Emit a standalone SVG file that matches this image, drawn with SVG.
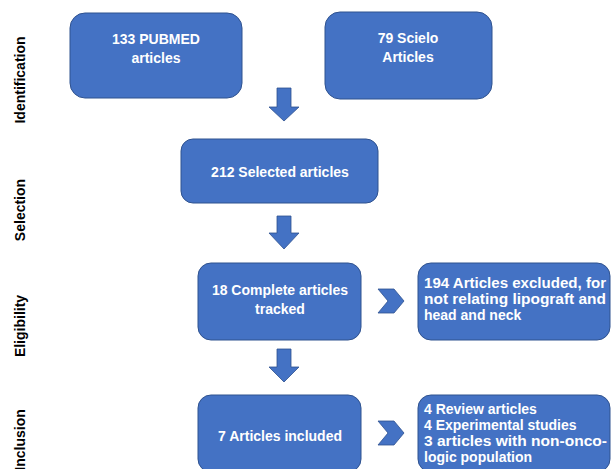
<svg xmlns="http://www.w3.org/2000/svg" width="611" height="469" viewBox="0 0 611 469">
<style>
.box{fill:#4472C4;stroke:#2F528F;stroke-width:1}
.arr{fill:#4472C4;stroke:#2F528F;stroke-width:0.8}
.t{font-family:"Liberation Sans",Arial,sans-serif;font-weight:bold;font-size:14px;fill:#fff}
.c{text-anchor:middle}
.lab{font-family:"Liberation Sans",Arial,sans-serif;font-weight:bold;font-size:14px;fill:#000;text-anchor:middle}
</style>
<rect width="611" height="469" fill="#fff"/>
<g id="stage-labels">
<text class="lab" transform="translate(25,80) rotate(-90)">Identification</text>
<text class="lab" transform="translate(25,210) rotate(-90)">Selection</text>
<text class="lab" transform="translate(25,326) rotate(-90)">Eligibility</text>
<text class="lab" transform="translate(25,440) rotate(-90)">Inclusion</text>
</g>
<g id="pubmed">
<rect class="box" x="70" y="13" width="172" height="85" rx="15"/>
<text class="t c" x="156" y="44">133 PUBMED</text>
<text class="t c" x="156" y="63">articles</text>
</g>
<g id="scielo">
<rect class="box" x="325" y="12" width="167" height="87" rx="15"/>
<text class="t c" x="408" y="43">79 Scielo</text>
<text class="t c" x="408" y="62">Articles</text>
</g>
<g id="selected">
<rect class="box" x="181" y="139" width="197" height="64" rx="12"/>
<text class="t c" x="280" y="177">212 Selected articles</text>
</g>
<g id="complete">
<rect class="box" x="198" y="263" width="163" height="77" rx="13"/>
<text class="t c" x="280" y="295">18 Complete articles</text>
<text class="t c" x="280" y="314">tracked</text>
</g>
<g id="excluded">
<rect class="box" x="418" y="263" width="192" height="77" rx="13"/>
<text class="t" x="424" y="288" textLength="182" lengthAdjust="spacingAndGlyphs">194 Articles excluded, for</text>
<text class="t" x="424" y="304" textLength="182" lengthAdjust="spacingAndGlyphs">not relating lipograft and</text>
<text class="t" x="424" y="320">head and neck</text>
</g>
<g id="included">
<rect class="box" x="198" y="395" width="163" height="77" rx="13"/>
<text class="t c" x="280" y="441">7 Articles included</text>
</g>
<g id="details">
<rect class="box" x="418" y="395" width="192" height="77" rx="13"/>
<text class="t" x="424" y="414">4 Review articles</text>
<text class="t" x="424" y="430">4 Experimental studies</text>
<text class="t" x="424" y="446" textLength="183" lengthAdjust="spacingAndGlyphs">3 articles with non-onco-</text>
<text class="t" x="424" y="462">logic population</text>
</g>
<g id="connectors">
<path class="arr" d="M277,88 H291 V107 H299 L284,121 L269,107 H277 Z"/>
<path class="arr" d="M277,216 H291 V233 H299 L284,249 L269,233 H277 Z"/>
<path class="arr" d="M277,349 H291 V367 H299 L284,382 L269,367 H277 Z"/>
<path class="arr" d="M378,289 H394 L404,301 L394,313 H378 L388,301 Z"/>
<path class="arr" d="M378,421 H394 L404,433 L394,445 H378 L388,433 Z"/>
</g>
</svg>
